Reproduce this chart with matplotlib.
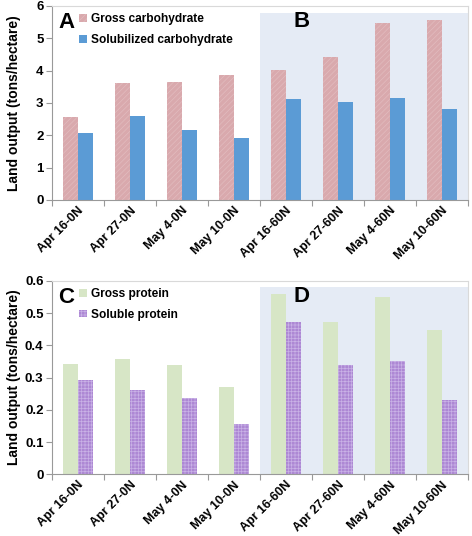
import numpy as np
import matplotlib
matplotlib.use("Agg")
import matplotlib.pyplot as plt
from matplotlib.transforms import offset_copy

plt.rcParams['font.family'] = ['Liberation Sans', 'DejaVu Sans']
plt.rcParams['font.weight'] = 'bold'
plt.rcParams['hatch.linewidth'] = 0.5

categories = ['Apr 16-0N', 'Apr 27-0N', 'May 4-0N', 'May 10-0N',
              'Apr 16-60N', 'Apr 27-60N', 'May 4-60N', 'May 10-60N']
gross_carb = [2.55, 3.62, 3.65, 3.85, 4.01, 4.43, 5.46, 5.56]
soluble_carb = [2.07, 2.58, 2.17, 1.92, 3.12, 3.02, 3.14, 2.82]
gross_prot = [0.343, 0.357, 0.338, 0.270, 0.558, 0.471, 0.550, 0.447]
soluble_prot = [0.293, 0.262, 0.238, 0.156, 0.473, 0.338, 0.351, 0.231]

fig = plt.figure(figsize=(4.72, 5.36), dpi=100)
ax1 = fig.add_axes([0.110, 0.627, 0.881, 0.362])
ax2 = fig.add_axes([0.110, 0.115, 0.881, 0.361])

x = np.arange(len(categories))
w = 0.29


def style(ax, ymax, step, fmt, shade_top, letters):
    ax.set_xlim(-0.5, len(categories) - 0.5)
    ax.set_ylim(0, ymax)
    ax.axvspan(3.5, len(categories) - 0.5, ymin=0, ymax=shade_top / ymax,
               facecolor='#e5ebf5', edgecolor='none', zorder=0)
    ax.set_yticks(np.arange(0, ymax + step / 2, step))
    ax.set_yticklabels([fmt(v) for v in np.arange(0, ymax + step / 2, step)],
                       fontsize=9.5, fontweight='bold')
    ax.set_xticks(np.arange(-0.5, len(categories), 1))
    ax.set_xticklabels([])
    ax.set_xticks(x, minor=True)
    ax.set_xticklabels(categories, minor=True, rotation=45, ha='right', va='top',
                       rotation_mode='anchor', fontsize=9, fontweight='bold')
    for lab in ax.get_xticklabels(minor=True):
        lab.set_transform(offset_copy(lab.get_transform(), fig=fig, x=9, y=-4, units='dots'))
    ax.tick_params(axis='x', which='minor', length=0)
    ax.tick_params(axis='x', which='major', length=4, color='#999999', direction='out')
    ax.tick_params(axis='y', length=4, color='#999999', direction='out', pad=2)
    for s in ['left', 'bottom']:
        ax.spines[s].set_color('#999999')
    for s in ['top', 'right']:
        ax.spines[s].set_color('#d9d9d9')
    ax.set_ylabel('Land output (tons/hectare)', fontsize=10, fontweight='bold')
    ax.yaxis.set_label_coords(-0.075, 0.5)
    ax.text(0.015, 0.97, letters[0], transform=ax.transAxes, fontsize=16,
            fontweight='bold', va='top')
    ax.text(4.14, ymax * 0.975, letters[1], fontsize=16, fontweight='bold', va='top')


# top: carbohydrate
ax1.bar(x - w / 2, gross_carb, w, facecolor='#d9a9ad', edgecolor='#e2bcbf',
        linewidth=0, hatch='//////', label='Gross carbohydrate', zorder=2)
ax1.bar(x + w / 2, soluble_carb, w, facecolor='#5b9bd5', edgecolor='#5b9bd5',
        linewidth=0, label='Solubilized carbohydrate', zorder=2)
style(ax1, 6, 1, lambda v: f'{v:.0f}', 5.79, ['A', 'B'])
ax1.legend(loc='upper left', bbox_to_anchor=(0.04, 1.02), frameon=False,
           prop={'weight': 'bold', 'size': 8.6}, handlelength=0.65, handleheight=0.65,
           handletextpad=0.35, labelspacing=0.75)

# bottom: protein
ax2.bar(x - w / 2, gross_prot, w, facecolor='#d7e6c6', edgecolor='#d7e6c6',
        linewidth=0, label='Gross protein', zorder=2)
ax2.bar(x + w / 2, soluble_prot, w, facecolor='#ad88d4', edgecolor='#c9b2e6',
        linewidth=0, hatch='+++++', label='Soluble protein', zorder=2)
style(ax2, 0.6, 0.1, lambda v: '0' if v == 0 else f'{v:.1f}', 0.58, ['C', 'D'])
ax2.legend(loc='upper left', bbox_to_anchor=(0.04, 1.02), frameon=False,
           prop={'weight': 'bold', 'size': 8.6}, handlelength=0.65, handleheight=0.65,
           handletextpad=0.35, labelspacing=0.75)

fig.savefig('out.png', dpi=100)
